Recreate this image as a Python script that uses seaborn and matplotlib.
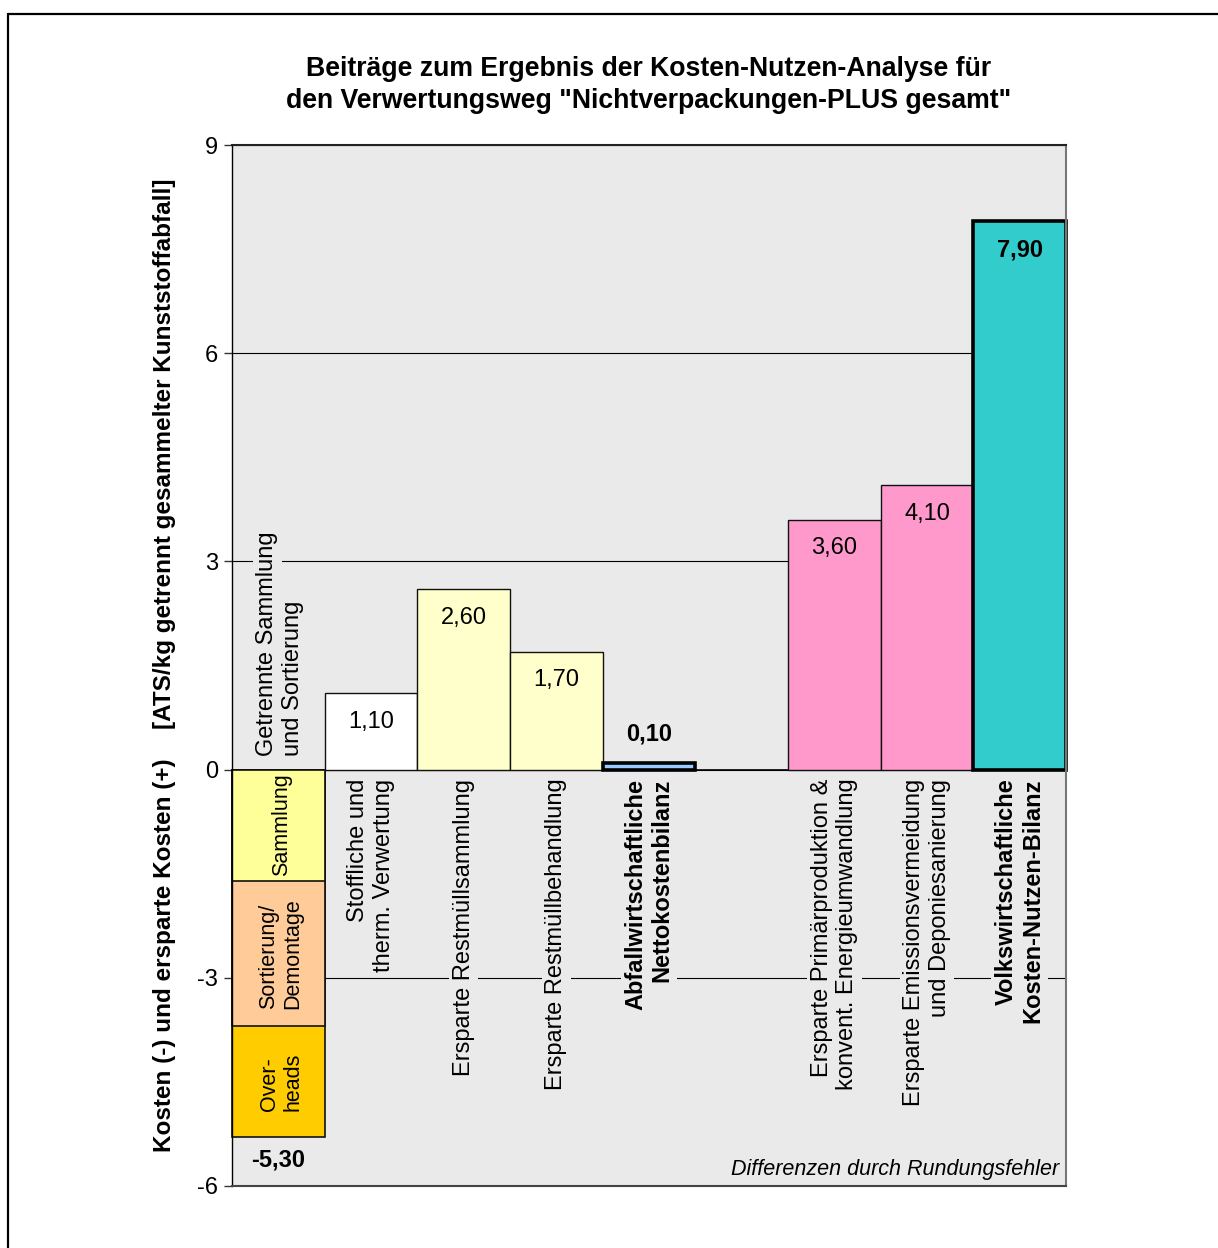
import numpy as np
import pandas as pd
import matplotlib
matplotlib.use("Agg")
import matplotlib.pyplot as plt
from matplotlib.lines import Line2D
import seaborn as sns

# --- data -------------------------------------------------------------
categories = [
    "Getrennte Sammlung\nund Sortierung",
    "Stoffliche und\ntherm. Verwertung",
    "Ersparte Restmüllsammlung",
    "Ersparte Restmüllbehandlung",
    "Abfallwirtschaftliche\nNettokostenbilanz",
    " ",
    "Ersparte Primärproduktion &\nkonvent. Energieumwandlung",
    "Ersparte Emissionsvermeidung\nund Deponiesanierung",
    "Volkswirtschaftliche\nKosten-Nutzen-Bilanz",
]
values = [-5.30, 1.10, 2.60, 1.70, 0.10, np.nan, 3.60, 4.10, 7.90]
bar_colors = ["#ffcc00", "#ffffff", "#ffffcc", "#ffffcc", "#99ccff",
              "#ffffff", "#ff99cc", "#ff99cc", "#33cccc"]
highlighted = [False, False, False, False, True, False, False, False, True]

cost_parts = ["Sammlung", "Sortierung/\nDemontage", "Over-\nheads"]
cost_values = [-1.60, -2.10, -1.60]
cost_colors = ["#ffff99", "#ffcc99", "#ffcc00"]

yticks = [-6, -3, 0, 3, 6, 9]
ytick_labels = ["-6", "-3", "0", "3", "6", "9"]

title = ("Beiträge zum Ergebnis der Kosten-Nutzen-Analyse für\n"
         "den Verwertungsweg \"Nichtverpackungen-PLUS gesamt\"")
ylabel_left = "Kosten (-) und ersparte Kosten (+)"
ylabel_right = "[ATS/kg getrennt gesammelter Kunststoffabfall]"
note = "Differenzen durch Rundungsfehler"

# --- style ------------------------------------------------------------
sns.set_theme(style="white")
plt.rcParams["font.family"] = ["Liberation Sans", "DejaVu Sans"]
plt.rcParams["axes.unicode_minus"] = False
plt.rcParams["text.color"] = "black"
plt.rcParams["ytick.color"] = "black"
plt.rcParams["xtick.color"] = "black"
plt.rcParams["axes.labelcolor"] = "black"

BG = "#eaeaea"
FS = 17

fig = plt.figure(figsize=(12.18, 12.48), dpi=100)
ax = fig.add_axes([232 / 1218, 1 - 1186 / 1248, 834 / 1218, 1041 / 1248])
ax.set_facecolor(BG)

df = pd.DataFrame({"kategorie": categories, "wert": values,
                   "farbe": bar_colors, "betont": highlighted})
df = df.dropna(subset=["wert"]).iloc[1:]  # slot 0 is drawn as a stack
palette = dict(zip(df["kategorie"], df["farbe"]))

common = dict(x="kategorie", y="wert", hue="kategorie", palette=palette,
              order=categories, width=1.0, legend=False, errorbar=None,
              saturation=1, ax=ax)

# regular bars
sns.barplot(data=df[~df["betont"]], edgecolor="#111111", linewidth=1.0,
            **common)
# balance bars with heavy outline
sns.barplot(data=df[df["betont"]], edgecolor="black", linewidth=2.6,
            **common)

# stacked cost bar in slot 0: draw cumulative depths from deepest upward
cum = np.cumsum(cost_values)
for depth, col in reversed(list(zip(cum, cost_colors))):
    sns.barplot(x=[categories[0]], y=[depth], color=col, order=categories,
                width=1.0, errorbar=None, edgecolor="#111111",
                linewidth=1.2, saturation=1, ax=ax)

for p in ax.patches:
    p.set_clip_on(False)

ax.axhline(0, color="black", lw=1.2, zorder=0.8)

# --- axes -------------------------------------------------------------
ax.set_xlim(-0.5, len(categories) - 0.5)
ax.set_ylim(-6, 9)
ax.set_yticks(yticks)
ax.set_yticklabels(ytick_labels, fontsize=FS)
ax.set_xticks([])
ax.set_xlabel("")
ax.set_ylabel("")
ax.tick_params(axis="y", which="major", direction="out", length=6,
               width=1, color="#333333", pad=4, left=True)
ax.yaxis.grid(True, color="black", lw=0.8)
ax.set_axisbelow(True)

for side, col, lw in [("left", "black", 1.0), ("top", "#222222", 1.5),
                      ("right", "#777777", 1.5), ("bottom", "#444444", 1.5)]:
    ax.spines[side].set_visible(True)
    ax.spines[side].set_color(col)
    ax.spines[side].set_linewidth(lw)

# --- value labels -----------------------------------------------------
def fmt(v):
    return f"{v:.2f}".replace(".", ",")

for i, v in enumerate(values):
    if np.isnan(v):
        continue
    if i == 0:
        ax.text(i, v - 0.33, fmt(v), ha="center", va="center",
                fontsize=FS, fontweight="bold")
    elif highlighted[i] and v < 0.5:
        ax.text(i, v + 0.42, fmt(v), ha="center", va="center",
                fontsize=FS, fontweight="bold")
    else:
        ax.text(i, v - 0.41, fmt(v), ha="center", va="center",
                fontsize=FS, fontweight="bold" if highlighted[i] else "normal")

# --- category labels --------------------------------------------------
label_box = dict(boxstyle="square,pad=0.15", facecolor=BG, edgecolor="none")
for i, lab in enumerate(categories):
    if not lab.strip():
        continue
    if i == 0:
        # cost group label above the zero line, one text per line
        lines = lab.split("\n")
        offsets = np.linspace(-0.12, 0.16, len(lines))
        for line, dx in zip(lines, offsets):
            ax.text(i + dx, 0.2, line, rotation=90, ha="center",
                    va="bottom", fontsize=FS, bbox=label_box)
    else:
        ax.text(i, -0.13, lab, rotation=90, ha="center", va="top",
                multialignment="right", fontsize=FS,
                fontweight="bold" if highlighted[i] else "normal",
                bbox=label_box)

# labels inside the stacked cost bar
tops = np.concatenate([[0], cum[:-1]])
for part, top, bot in zip(cost_parts, tops, cum):
    ax.text(0.03, (top + bot) / 2, part, rotation=90, ha="center",
            va="center", multialignment="left", fontsize=15.5)

ax.text(8.43, -5.84, note, ha="right", va="baseline", fontsize=15.5,
        style="italic")

# --- figure texts -----------------------------------------------------
fig.text(649 / 1218, 1 - 85 / 1248, title, ha="center", va="center",
         fontsize=19.2, fontweight="bold", linespacing=1.25)
fig.text(165 / 1218, 1 - 955 / 1248, ylabel_left, rotation=90,
         ha="center", va="center", fontsize=17.5, fontweight="bold")
fig.text(165 / 1218, 1 - 454 / 1248, ylabel_right, rotation=90,
         ha="center", va="center", fontsize=17.5, fontweight="bold")

# outer frame (top and left edges)
fig.add_artist(Line2D([8 / 1218, 1.0], [1 - 14 / 1248, 1 - 14 / 1248],
                      transform=fig.transFigure, color="black", lw=1.6))
fig.add_artist(Line2D([8 / 1218, 8 / 1218], [0.0, 1 - 14 / 1248],
                      transform=fig.transFigure, color="black", lw=1.6))

fig.savefig("out.png", dpi=100, facecolor="white")
